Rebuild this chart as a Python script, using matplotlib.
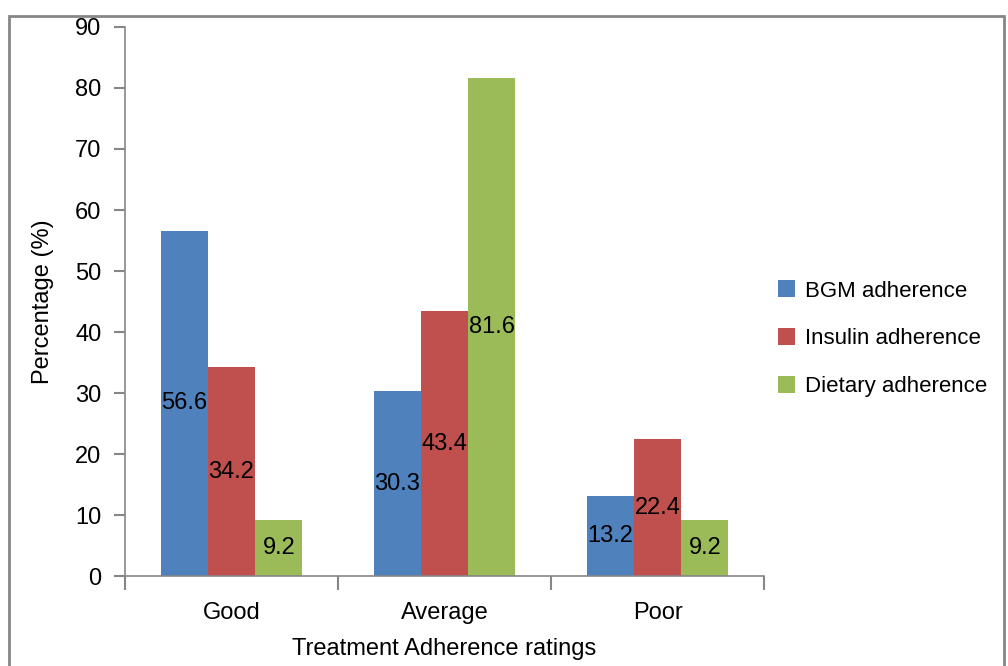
import numpy as np
import matplotlib.pyplot as plt
from matplotlib.patches import Rectangle

plt.rcParams['font.family'] = ['Liberation Sans', 'DejaVu Sans']

# data
categories = ['Good', 'Average', 'Poor']
series = ['BGM adherence', 'Insulin adherence', 'Dietary adherence']
bgm = [56.6, 30.3, 13.2]
insulin = [34.2, 43.4, 22.4]
dietary = [9.2, 81.6, 9.2]
colors = ['#4f81bd', '#c0504d', '#9bbb59']

fig = plt.figure(figsize=(10.08, 6.66), dpi=100)
ax = fig.add_axes([0.124, 0.135, 0.634, 0.8245])

x = np.arange(len(categories)) + 0.5
width = 0.222
for kk, (vals, col, name) in enumerate(zip([bgm, insulin, dietary], colors, series)):
    pos = x + (kk - 1) * width
    bars = ax.bar(pos, vals, width=width, color=col, label=name, zorder=2)
    for p, v in zip(pos, vals):
        ax.text(p, v / 2, '{:.1f}'.format(v), ha='center', va='center',
                fontsize=17, color='k', zorder=3)

ax.set_xlim(0, len(categories))
ax.set_ylim(0, 90)
ax.set_yticks(np.arange(0, 91, 10))
ax.set_xticks(np.arange(len(categories) + 1))
ax.set_xticklabels([])
ax.set_xticks(x, minor=True)
ax.set_xticklabels(categories, minor=True)
ax.tick_params(axis='x', which='minor', length=0, pad=19, labelsize=17)
ax.tick_params(axis='x', which='major', direction='out', length=10,
               color='#868686', width=1.5)
ax.tick_params(axis='y', direction='out', length=8, color='#868686',
               width=1.5, labelsize=17, pad=9)
for s in ['top', 'right']:
    ax.spines[s].set_visible(False)
for s in ['left', 'bottom']:
    ax.spines[s].set_color('#868686')
    ax.spines[s].set_linewidth(1.2)

ax.set_ylabel('Percentage (%)', fontsize=17, labelpad=15)
ax.set_xlabel('Treatment Adherence ratings', fontsize=17, labelpad=10)

ax.legend(loc='center left', bbox_to_anchor=(0.99, 0.432), frameon=False,
          fontsize=16, handlelength=0.8, handleheight=0.8, handletextpad=0.45,
          labelspacing=1.2)

# outer border
fig.patches.append(Rectangle((9 / 1008, -0.02), 995 / 1008, 0.008 + 658 / 666,
                             transform=fig.transFigure, fill=False,
                             edgecolor='#868686', linewidth=2))

fig.savefig('out.png', dpi=100)
